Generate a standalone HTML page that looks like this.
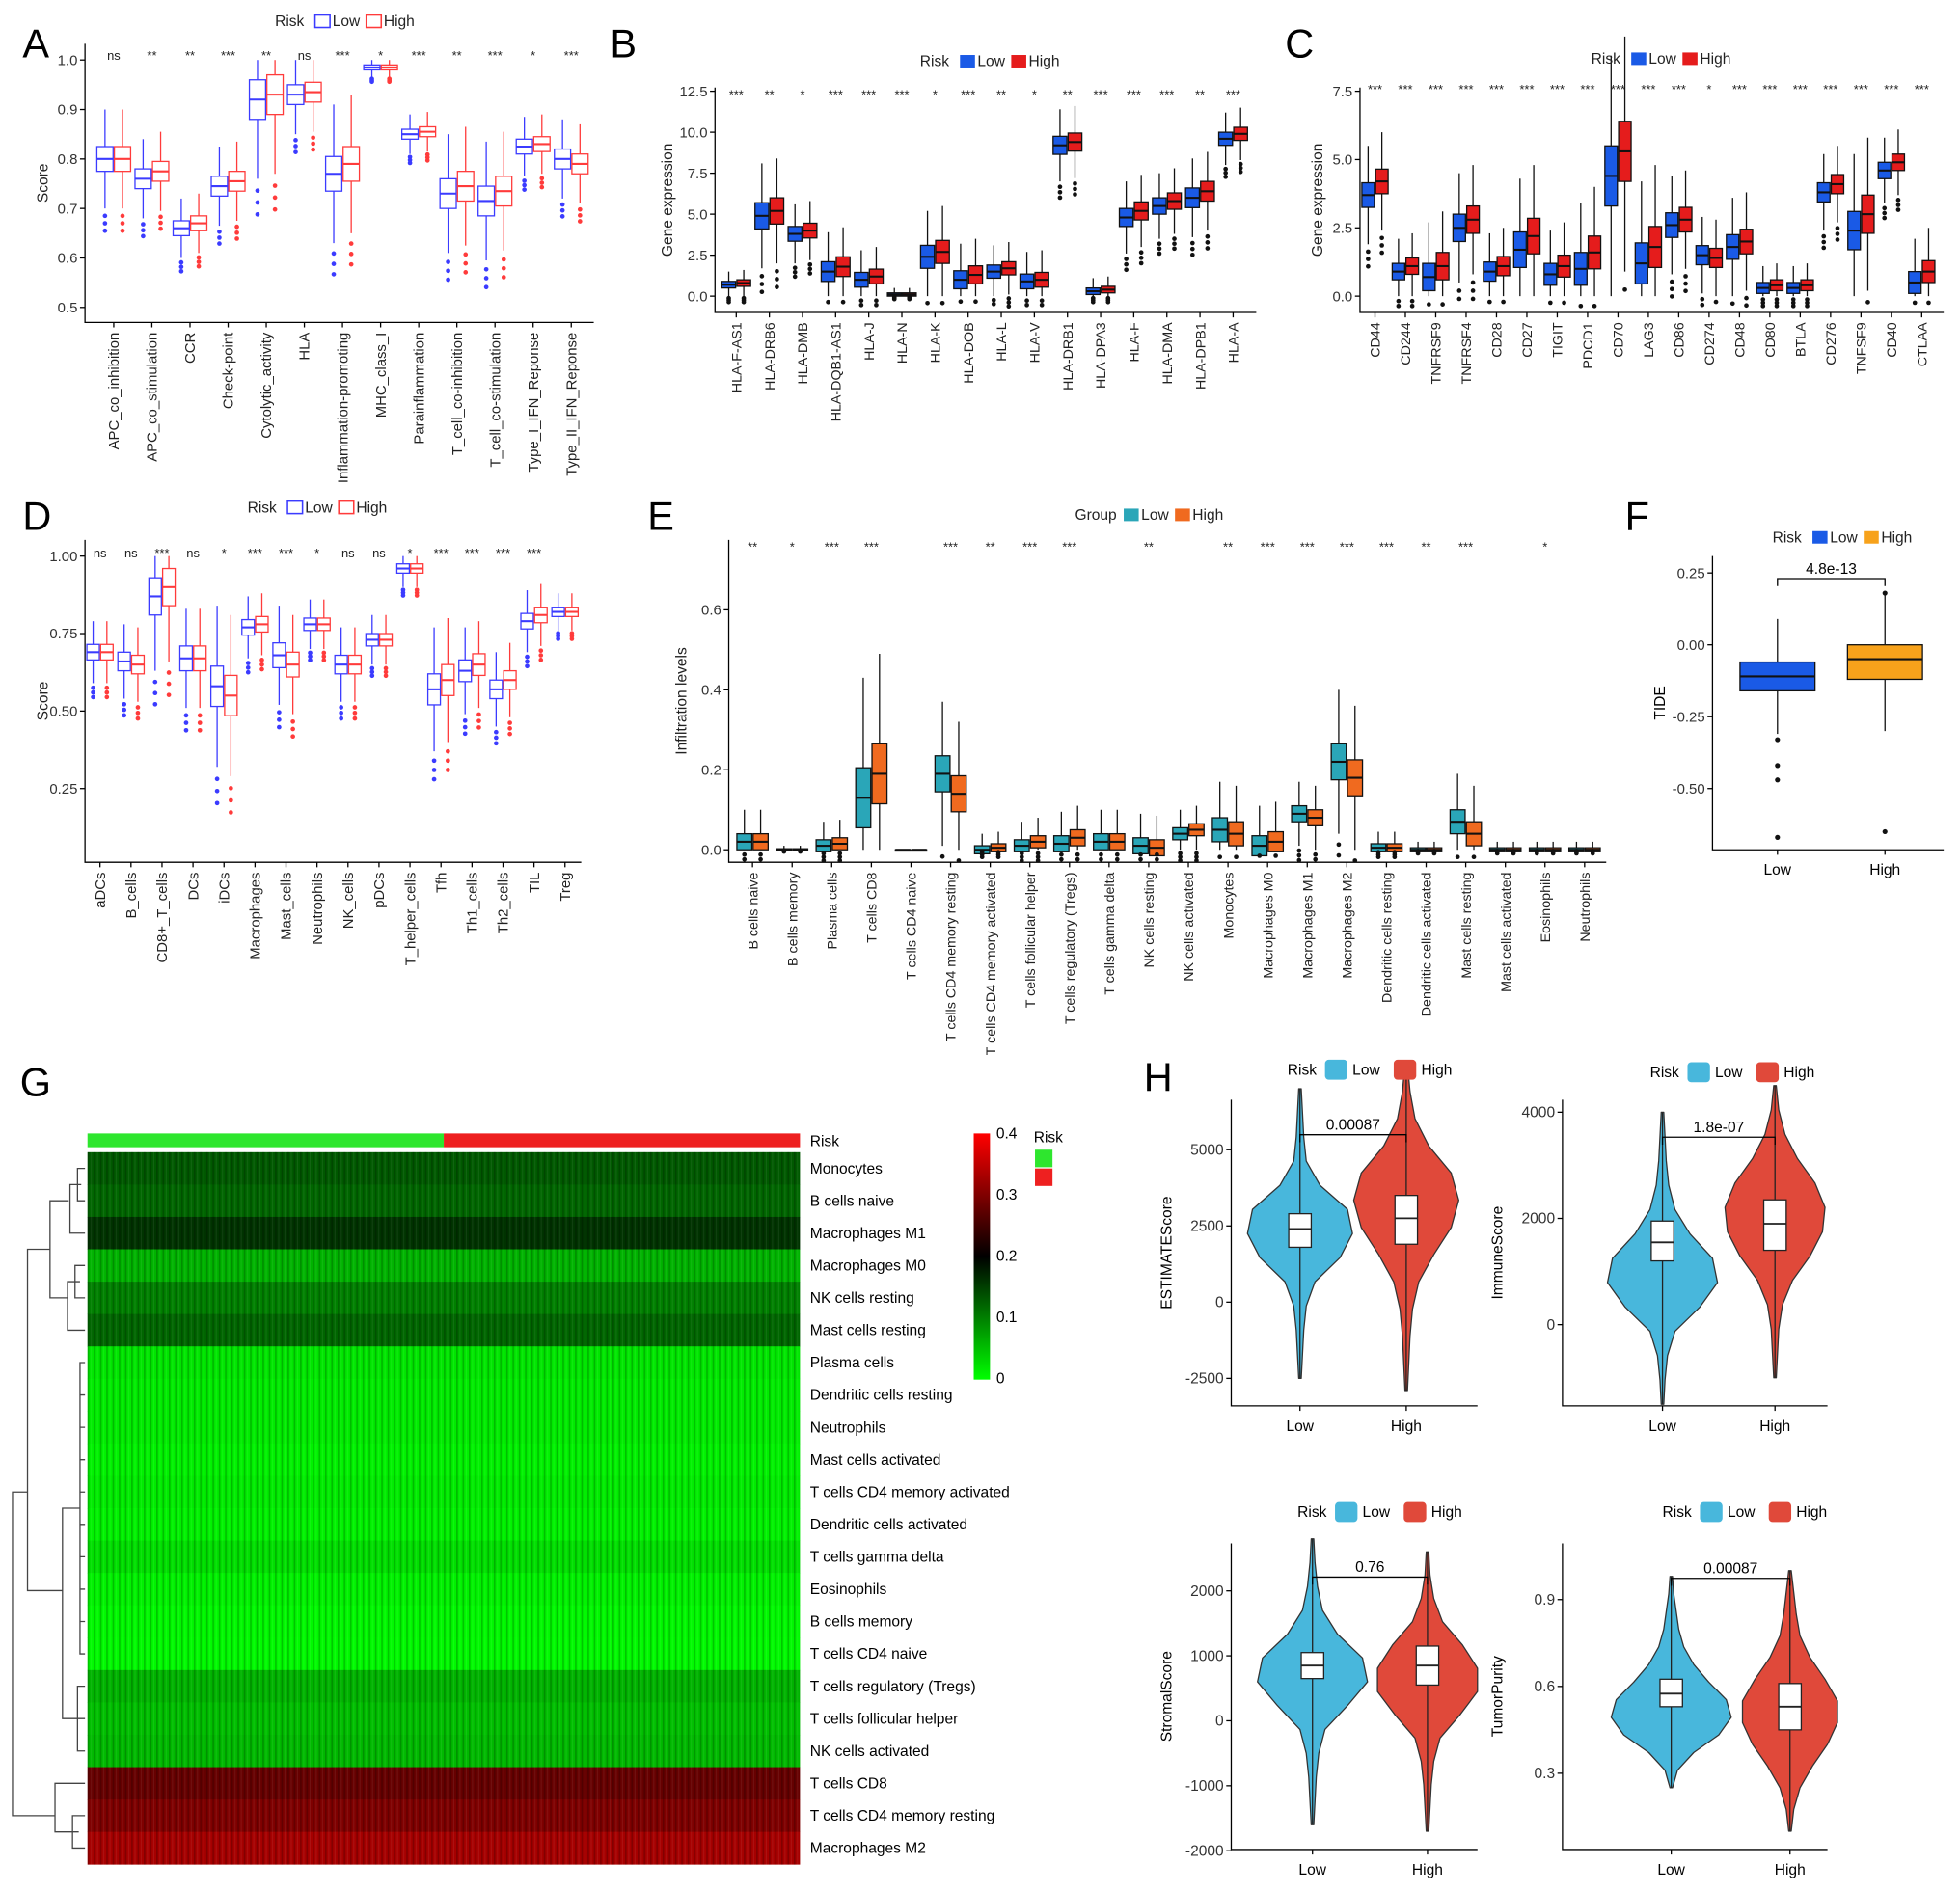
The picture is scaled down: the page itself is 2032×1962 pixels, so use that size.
<!DOCTYPE html>
<html><head><meta charset="utf-8"><style>
html,body{margin:0;padding:0;background:#fff;}
svg{display:block;font-family:"Liberation Sans",sans-serif;}
</style></head><body>
<svg id="fig" xmlns="http://www.w3.org/2000/svg" width="2032" height="1962" viewBox="0 0 1568 1514">
<defs>
<pattern id="stripes" width="5" height="10" patternUnits="userSpaceOnUse">
<rect x="0" y="0" width="1.3" height="10" fill="#000" opacity="0.35"/>
<rect x="2.6" y="0" width="0.8" height="10" fill="#fff" opacity="0.12"/>
</pattern>
<linearGradient id="cbar" x1="0" y1="1" x2="0" y2="0">
<stop offset="0" stop-color="#00ff00"/><stop offset="0.5" stop-color="#000"/><stop offset="1" stop-color="#ff0000"/>
</linearGradient>
</defs>
</svg>
<script>
// ---------- DATA ----------
const catsA=["APC_co_inhibition","APC_co_stimulation","CCR","Check-point","Cytolytic_activity","HLA","Inflammation-promoting","MHC_class_I","Parainflammation","T_cell_co-inhibition","T_cell_co-stimulation","Type_I_IFN_Reponse","Type_II_IFN_Reponse"];
const lowA=[0.80,0.76,0.66,0.745,0.92,0.93,0.77,0.985,0.85,0.73,0.715,0.825,0.80];
const highA=[0.80,0.775,0.67,0.755,0.93,0.935,0.79,0.985,0.855,0.745,0.735,0.83,0.79];
const iqrA=[0.05,0.04,0.03,0.04,0.08,0.04,0.07,0.01,0.02,0.06,0.06,0.03,0.04];
const sigA=["ns","**","**","***","**","ns","***","*","***","**","***","*","***"];
const ticksA=[0.5,0.6,0.7,0.8,0.9,1.0];

const catsB=["HLA-F-AS1","HLA-DRB6","HLA-DMB","HLA-DQB1-AS1","HLA-J","HLA-N","HLA-K","HLA-DOB","HLA-L","HLA-V","HLA-DRB1","HLA-DPA3","HLA-F","HLA-DMA","HLA-DPB1","HLA-A"];
const lowB=[0.7,4.9,3.8,1.5,1.0,0.1,2.4,1.0,1.5,0.9,9.2,0.3,4.8,5.5,6.0,9.6];
const highB=[0.8,5.2,4.0,1.8,1.2,0.1,2.7,1.3,1.7,1.0,9.4,0.4,5.2,5.8,6.4,9.9];
const iqrB=[0.4,1.6,0.9,1.2,0.9,0.2,1.4,1.1,0.8,0.9,1.1,0.4,1.1,1.0,1.2,0.8];
const sigB=["***","**","*","***","***","***","*","***","**","*","**","***","***","***","**","***"];
const ticksB=[0,2.5,5,7.5,10,12.5];
const tickLabB=["0.0","2.5","5.0","7.5","10.0","12.5"];

const catsC=["CD44","CD244","TNFRSF9","TNFRSF4","CD28","CD27","TIGIT","PDCD1","CD70","LAG3","CD86","CD274","CD48","CD80","BTLA","CD276","TNFSF9","CD40","CTLAA"];
const lowC=[3.7,0.9,0.7,2.5,0.9,1.7,0.8,1.0,4.4,1.2,2.6,1.5,1.8,0.3,0.3,3.8,2.4,4.6,0.5];
const highC=[4.2,1.1,1.1,2.8,1.1,2.2,1.1,1.6,5.3,1.8,2.8,1.4,2.0,0.4,0.4,4.1,3.0,4.9,0.9];
const iqrC=[0.9,0.6,1.0,1.0,0.7,1.3,0.8,1.2,2.2,1.5,0.9,0.7,0.9,0.4,0.4,0.7,1.4,0.6,0.8];
const sigC=["***","***","***","***","***","***","***","***","***","***","***","*","***","***","***","***","***","***","***"];
const ticksC=[0,2.5,5,7.5];
const tickLabC=["0.0","2.5","5.0","7.5"];

const catsD=["aDCs","B_cells","CD8+_T_cells","DCs","iDCs","Macrophages","Mast_cells","Neutrophils","NK_cells","pDCs","T_helper_cells","Tfh","Th1_cells","Th2_cells","TIL","Treg"];
const lowD=[0.69,0.66,0.87,0.67,0.58,0.77,0.68,0.78,0.65,0.73,0.96,0.57,0.63,0.57,0.79,0.82];
const highD=[0.69,0.65,0.90,0.67,0.55,0.78,0.65,0.78,0.65,0.73,0.96,0.60,0.65,0.60,0.81,0.82];
const iqrD=[0.05,0.06,0.12,0.08,0.13,0.05,0.08,0.04,0.06,0.04,0.03,0.10,0.07,0.06,0.05,0.03];
const sigD=["ns","ns","***","ns","*","***","***","*","ns","ns","*","***","***","***","***",""];
const ticksD=[0.25,0.5,0.75,1.0];
const tickLabD=["0.25","0.50","0.75","1.00"];

const catsE=["B cells naive","B cells memory","Plasma cells","T cells CD8","T cells CD4 naive","T cells CD4 memory resting","T cells CD4 memory activated","T cells follicular helper","T cells regulatory (Tregs)","T cells gamma delta","NK cells resting","NK cells activated","Monocytes","Macrophages M0","Macrophages M1","Macrophages M2","Dendritic cells resting","Dendritic cells activated","Mast cells resting","Mast cells activated","Eosinophils","Neutrophils"];
const lowE=[0.02,0,0.01,0.13,0,0.19,0,0.01,0.015,0.02,0.01,0.04,0.05,0.01,0.09,0.22,0.005,0,0.07,0,0,0];
const highE=[0.02,0,0.015,0.19,0,0.14,0.005,0.02,0.03,0.02,0.005,0.05,0.04,0.02,0.08,0.18,0.005,0,0.04,0,0,0];
const iqrE=[0.04,0.005,0.03,0.15,0,0.09,0.02,0.03,0.04,0.04,0.04,0.03,0.06,0.05,0.04,0.09,0.02,0.01,0.06,0.01,0.01,0.01];
const sigE=["**","*","***","***","","***","**","***","***","","**","","**","***","***","***","***","**","***","","*",""];
const ticksE=[0,0.2,0.4,0.6];
const tickLabE=["0.0","0.2","0.4","0.6"];

const catsF=["Low","High"];
const medF=[-0.11,-0.05];
const q1F=[-0.16,-0.12];
const q3F=[-0.06,0.0];
const ticksF=[0.25,0,-0.25,-0.5];
const tickLabF=["0.25","0.00","-0.25","-0.50"];

const rowsG=["Monocytes","B cells naive","Macrophages M1","Macrophages M0","NK cells resting","Mast cells resting","Plasma cells","Dendritic cells resting","Neutrophils","Mast cells activated","T cells CD4 memory activated","Dendritic cells activated","T cells gamma delta","Eosinophils","B cells memory","T cells CD4 naive","T cells regulatory (Tregs)","T cells follicular helper","NK cells activated","T cells CD8","T cells CD4 memory resting","Macrophages M2"];
const valsG=[0.13,0.12,0.16,0.06,0.1,0.12,0.02,0.015,0.015,0.01,0.015,0.01,0.025,0.01,0.005,0.004,0.06,0.05,0.055,0.28,0.3,0.33];
const riskLowFrac=0.5;

const violins=[
 {name:"ESTIMATEScore",p:"0.00087",ticks:[-2500,0,2500,5000],
  low:{min:-2500,max:7000,med:2400,q1:1800,q3:2900,w:[1,2,3,5,12,32,42,38,16,5,3,2,1]},
  high:{min:-2900,max:7800,med:2750,q1:1900,q3:3500,w:[1,2,3,5,10,22,36,42,36,18,7,3,1]}},
 {name:"ImmuneScore",p:"1.8e-07",ticks:[0,2000,4000],
  low:{min:-1500,max:4000,med:1550,q1:1200,q3:1950,w:[1,2,4,10,30,44,40,22,10,5,3,2,1]},
  high:{min:-1000,max:4500,med:1900,q1:1400,q3:2350,w:[1,2,3,6,14,28,38,40,32,18,8,3,1]}},
 {name:"StromalScore",p:"0.76",ticks:[-2000,-1000,0,1000,2000],
  low:{min:-1600,max:2800,med:850,q1:650,q3:1050,w:[1,2,3,5,10,28,44,40,20,8,4,2,1]},
  high:{min:-1700,max:2600,med:850,q1:550,q3:1150,w:[1,2,3,5,10,26,40,40,28,12,5,2,1]}},
 {name:"TumorPurity",p:"0.00087",ticks:[0.3,0.6,0.9],
  low:{min:0.25,max:0.98,med:0.575,q1:0.53,q3:0.625,w:[1,5,18,38,48,44,30,18,10,6,4,2,1]},
  high:{min:0.1,max:1.0,med:0.53,q1:0.45,q3:0.61,w:[1,3,8,18,30,38,38,28,16,8,5,3,1]}}
];

// ---------- HELPERS ----------
const NS='http://www.w3.org/2000/svg';
const svg=document.getElementById('fig');
function mk(tag,attrs,parent,text){const e=document.createElementNS(NS,tag);for(const k in attrs)e.setAttribute(k,attrs[k]);if(text!==undefined)e.textContent=text;(parent||svg).appendChild(e);return e;}
function nm(e,n){
 
 
 return e;}
function lin(va,ya,vb,yb){return v=>ya+(v-va)*(yb-ya)/(vb-va);}

function legend(g,x,y,title,labels,cols,filled,outline){
 const t=mk('text',{x:x,y:y+4,'font-size':12,fill:'#222'},g,title);
 nm(t,'legend-title');
 let cx=x+title.length*7+4;
 labels.forEach((l,i)=>{
  const r=mk('rect',{x:cx,y:y-5,width:12,height:10,fill:filled?cols[i]:'#fff',stroke:outline?cols[i]:'none','stroke-width':1.2},g);
  nm(r,'legend-key-'+l.toLowerCase());
  const tt=mk('text',{x:cx+14,y:y+4,'font-size':12,fill:'#222'},g,l);
  nm(tt,'legend-entry-'+l.toLowerCase());
  cx+=14+l.length*7+6;
 });
}

function boxPanel(c){
 const g=mk('g',{},svg);nm(g,c.id+'-panel');
 const Y=lin(c.va,c.ya,c.vb,c.yb);
 const ax=mk('path',{d:`M${c.x0},${c.y0}V${c.y1}H${c.x1}`,stroke:'#000','stroke-width':1,fill:'none'},g);nm(ax,c.id+'-axes');
 c.ticks.forEach((t,i)=>{
  const y=Y(t);
  mk('line',{x1:c.x0-4,x2:c.x0,y1:y,y2:y,stroke:'#000'},g);
  const tl=mk('text',{x:c.x0-6,y:y+4,'font-size':11.5,'text-anchor':'end',fill:'#333'},g,c.tickLab?c.tickLab[i]:String(t));
  nm(tl,c.id+'-y-tick');
 });
 const yl=mk('text',{transform:`translate(${c.x0-(c.ylOff||30)},${(c.y0+c.y1)/2}) rotate(-90)`,'font-size':12,'text-anchor':'middle',fill:'#222'},g,c.ylabel);
 nm(yl,c.id+'-y-axis-title');
 const bw=c.bw;
 c.cats.forEach((cat,i)=>{
  const xc=c.xs+i*c.step;
  mk('line',{x1:xc,x2:xc,y1:c.y1,y2:c.y1+4,stroke:'#000'},g);
  const lab=mk('text',{transform:`translate(${xc+4},${c.y1+8}) rotate(-90)`,'font-size':c.fs||11.5,'text-anchor':'end',fill:'#222'},g,cat);
  nm(lab,c.id+'-x-label');
  [[c.lo,-1,c.colL],[c.hi,1,c.colH]].forEach(([arr,s,col])=>{
   if(!arr.length)return;
   const m=arr[i],h=c.iqr[i]/2;
   const q1=m-h,q3=m+h;
   const wl=Math.max(c.vmin,q1-3*h),wh=Math.min(c.vmax,q3+3*h);
   const bx=xc+(s<0?-bw-0.5:0.5);
   const wx=bx+bw/2;
   const stroke=c.filled?'#111':col;
   const wl1=mk('line',{x1:wx,x2:wx,y1:Y(wh),y2:Y(wl),stroke:stroke,'stroke-width':1},g);nm(wl1,'whisker');
   const r=mk('rect',{x:bx,y:Y(q3),width:bw,height:Math.max(1,Y(q1)-Y(q3)),fill:c.filled?col:'#fff',stroke:stroke,'stroke-width':1},g);
   nm(r,c.id+'-box-'+(s<0?'low':'high'));
   mk('line',{x1:bx,x2:bx+bw,y1:Y(m),y2:Y(m),stroke:stroke,'stroke-width':1.6},g);
   for(let k=1;k<=3;k++){const ov=wl-k*h*0.6;if(ov>c.vmin-(c.vb-c.va)*0.05&&h>0.0001){const d=mk('circle',{cx:wx,cy:Y(ov),r:1.8,fill:c.filled?'#111':col},g);nm(d,'outlier');}}
  });
  if(c.sig&&c.sig[i]){const st=mk('text',{x:xc,y:c.sigY,'font-size':10,'text-anchor':'middle',fill:'#222'},g,c.sig[i]);nm(st,c.id+'-significance');}
 });
 legend(g,c.legX,c.legY,c.legT,["Low","High"],[c.colL,c.colH],c.filled,!c.filled);
 const L=mk('text',{x:c.Lx,y:c.Ly,'font-size':32,fill:'#000'},g,c.id.toUpperCase());nm(L,'panel-label-'+c.id);
}

// ---------- PANELS A-E ----------
boxPanel({id:'a',x0:68,x1:475,y0:35,y1:258,va:0.5,ya:246,vb:1.0,yb:48,vmin:0.49,vmax:1.0,ticks:ticksA,tickLab:["0.5","0.6","0.7","0.8","0.9","1.0"],ylabel:'Score',
 cats:catsA,lo:lowA,hi:highA,iqr:iqrA,sig:sigA,xs:91,step:30.5,bw:13,colL:'#3b3bff',colH:'#ff3b3b',filled:false,sigY:48,legX:220,legY:17,legT:'Risk',Lx:18,Ly:46});
boxPanel({id:'b',x0:572,x1:1005,y0:70,y1:250,va:0,ya:237,vb:12.5,yb:73,vmin:0,vmax:12.5,ticks:ticksB,tickLab:tickLabB,ylabel:'Gene expression',ylOff:34,
 cats:catsB,lo:lowB,hi:highB,iqr:iqrB,sig:sigB,xs:589,step:26.5,bw:11,colL:'#1a5ae6',colH:'#e51c1c',filled:true,sigY:79,legX:736,legY:49,legT:'Risk',Lx:488,Ly:46,fs:11});
boxPanel({id:'c',x0:1088,x1:1555,y0:70,y1:250,va:0,ya:237,vb:7.5,yb:73,vmin:0,vmax:9.5,ticks:ticksC,tickLab:tickLabC,ylabel:'Gene expression',ylOff:30,
 cats:catsC,lo:lowC,hi:highC,iqr:iqrC,sig:sigC,xs:1100,step:24.3,bw:10,colL:'#1a5ae6',colH:'#e51c1c',filled:true,sigY:75,legX:1273,legY:47,legT:'Risk',Lx:1028,Ly:46,fs:11});
boxPanel({id:'d',x0:68,x1:465,y0:432,y1:690,va:0.25,ya:631,vb:1.0,yb:445,vmin:0.1,vmax:1.0,ticks:ticksD,tickLab:tickLabD,ylabel:'Score',
 cats:catsD,lo:lowD,hi:highD,iqr:iqrD,sig:sigD,xs:80,step:24.8,bw:10,colL:'#3b3bff',colH:'#ff3b3b',filled:false,sigY:446,legX:198,legY:406,legT:'Risk',Lx:18,Ly:424});
boxPanel({id:'e',x0:583,x1:1285,y0:432,y1:690,va:0,ya:680,vb:0.6,yb:488,vmin:0,vmax:0.6,ticks:ticksE,tickLab:tickLabE,ylabel:'Infiltration levels',ylOff:34,
 cats:catsE,lo:lowE,hi:highE,iqr:iqrE,sig:sigE,xs:602,step:31.7,bw:12,colL:'#2aa6b8',colH:'#f06a1f',filled:true,sigY:441,legX:860,legY:412,legT:'Group',Lx:518,Ly:424,fs:11});

// ---------- PANEL F ----------
(function(){
 const g=mk('g',{},svg);nm(g,'f-panel');
 const x0=1370,x1=1555,y0=445,y1=680;
 const Y=lin(0,516,-0.5,631);
 const ax=mk('path',{d:`M${x0},${y0}V${y1}H${x1}`,stroke:'#000',fill:'none'},g);nm(ax,'f-axes');
 ticksF.forEach((t,i)=>{const y=Y(t);mk('line',{x1:x0-4,x2:x0,y1:y,y2:y,stroke:'#000'},g);const tl=mk('text',{x:x0-6,y:y+4,'font-size':11.5,'text-anchor':'end',fill:'#333'},g,tickLabF[i]);nm(tl,'f-y-tick');});
 const yl=mk('text',{transform:`translate(${x0-38},${(y0+y1)/2}) rotate(-90)`,'font-size':12,'text-anchor':'middle'},g,'TIDE');nm(yl,'f-y-axis-title');
 const xs=[1422,1508],cols=['#1a5ae6','#f7a21b'];
 catsF.forEach((c,i)=>{
  const xc=xs[i];
  mk('line',{x1:xc,x2:xc,y1:y1,y2:y1+4,stroke:'#000'},g);
  const xl=mk('text',{x:xc,y:y1+20,'font-size':12,'text-anchor':'middle'},g,c);nm(xl,'f-x-label');
  const h=q3F[i]-q1F[i];
  const w1=mk('line',{x1:xc,x2:xc,y1:Y(q3F[i]+1.5*h),y2:Y(q1F[i]-1.5*h),stroke:'#111'},g);nm(w1,'whisker');
  const r=mk('rect',{x:xc-30,y:Y(q3F[i]),width:60,height:Y(q1F[i])-Y(q3F[i]),fill:cols[i],stroke:'#111'},g);nm(r,'f-box-'+c.toLowerCase());
  mk('line',{x1:xc-30,x2:xc+30,y1:Y(medF[i]),y2:Y(medF[i]),stroke:'#111','stroke-width':1.6},g);
 });
 [[1422,-0.33],[1422,-0.42],[1422,-0.47],[1422,-0.67],[1508,0.18],[1508,-0.65]].forEach(p=>{const d=mk('circle',{cx:p[0],cy:Y(p[1]),r:2,fill:'#111'},g);nm(d,'outlier');});
 mk('path',{d:'M1422,469V463H1508V469',stroke:'#000',fill:'none'},g);
 const pv=mk('text',{x:1465,y:459,'font-size':12,'text-anchor':'middle'},g,'4.8e-13');nm(pv,'f-p-value');
 legend(g,1418,430,'Risk',["Low","High"],cols,true,false);
 const L=mk('text',{x:1300,y:424,'font-size':32},g,'F');nm(L,'panel-label-f');
})();

// ---------- PANEL G ----------
(function(){
 const g=mk('g',{},svg);nm(g,'g-panel');
 const x0=70,x1=640,top=922,rh=25.9;
 const col=v=>{const t=Math.min(1,Math.max(0,v/0.4));let r,gg;if(t<0.5){r=0;gg=Math.round(255*(1-t*2));}else{r=Math.round(255*(t-0.5)*2);gg=0;}return `rgb(${r},${gg},0)`;};
 const rl=mk('rect',{x:x0,y:907,width:(x1-x0)*riskLowFrac,height:11,fill:'#2ee62e'},g);nm(rl,'risk-bar-low');
 const rhh=mk('rect',{x:x0+(x1-x0)*riskLowFrac,y:907,width:(x1-x0)*(1-riskLowFrac),height:11,fill:'#ee2020'},g);nm(rhh,'risk-bar-high');
 const rlab=mk('text',{x:648,y:917,'font-size':12},g,'Risk');nm(rlab,'risk-row-label');
 rowsG.forEach((r,i)=>{
  const y=top+i*rh;
  const c=mk('rect',{x:x0,y:y,width:x1-x0,height:rh+0.3,fill:col(valsG[i])},g);nm(c,'heatmap-row');
  const s=mk('rect',{x:x0,y:y,width:x1-x0,height:rh+0.3,fill:'url(#stripes)',opacity:0.6},g);nm(s,'heatmap-texture');
  const t=mk('text',{x:648,y:y+rh/2+4,'font-size':12},g,r);nm(t,'heatmap-row-label');
 });
 const cy=i=>top+i*rh+rh/2;
 const dg=mk('path',{d:
 `M68,${cy(0)}H62V${cy(1)}H68 M65,${(cy(0)+cy(1))/2}H56V${cy(2)}H68`+
 ` M68,${cy(3)}H60V${cy(4)}H68 M64,${(cy(3)+cy(4))/2}H54V${cy(5)}H68`+
 ` M55,${(cy(0)+cy(2))/2}H40V${(cy(3)+cy(5))/2}H54`+
 ` M68,${cy(6)}H64V${cy(15)}H68`+[7,8,9,10,11,12,13,14].map(k=>` M68,${cy(k)}H64`).join('')+
 ` M68,${cy(16)}H62V${cy(18)}H68 M68,${cy(17)}H62`+
 ` M64,${(cy(6)+cy(15))/2}H50V${cy(17)}H62`+
 ` M50,${(cy((6))+cy(17))/2+40}H22V${(cy(0)+cy(5))/2}H40`+
 ` M68,${cy(20)}H58V${cy(21)}H68 M63,${(cy(20)+cy(21))/2}H44V${cy(19)}H68`+
 ` M44,${(cy(19)+cy(21))/2}H10V${cy(10)}H22`,stroke:'#444',fill:'none','stroke-width':1},g);
 nm(dg,'dendrogram');
 const cb=mk('rect',{x:779,y:907,width:13,height:197,fill:'url(#cbar)'},g);nm(cb,'colorbar');
 ["0.4","0.3","0.2","0.1","0"].forEach((l,i)=>{const t=mk('text',{x:797,y:911+i*49,'font-size':12},g,l);nm(t,'colorbar-tick');});
 const lt=mk('text',{x:827,y:914,'font-size':12},g,'Risk');nm(lt,'risk-legend-title');
 const k1=mk('rect',{x:828,y:920,width:14,height:14,fill:'#2ee62e'},g);nm(k1,'risk-legend-low');
 const k2=mk('rect',{x:828,y:935,width:14,height:14,fill:'#ee2020'},g);nm(k2,'risk-legend-high');
 const L=mk('text',{x:16,y:877,'font-size':32},g,'G');nm(L,'panel-label-g');
})();

// ---------- PANEL H ----------
const vLayout=[
 {x0:985,x1:1182,y0:880,y1:1125,xs:[1040,1125],va:0,ya:1042,vb:5000,yb:920,br:908,legX:1030,legY:856},
 {x0:1250,x1:1462,y0:880,y1:1125,xs:[1330,1420],va:0,ya:1060,vb:4000,yb:890,br:910,legX:1320,legY:858},
 {x0:985,x1:1182,y0:1235,y1:1480,xs:[1050,1142],va:0,ya:1377,vb:2000,yb:1273,br:1262,legX:1038,legY:1210},
 {x0:1250,x1:1462,y0:1235,y1:1480,xs:[1337,1432],va:0.3,ya:1419,vb:0.9,yb:1280,br:1263,legX:1330,legY:1210}
];
violins.forEach((v,vi)=>{
 const L=vLayout[vi];
 const g=mk('g',{},svg);nm(g,'h-panel-'+v.name.toLowerCase());
 const Y=lin(L.va,L.ya,L.vb,L.yb);
 const ax=mk('path',{d:`M${L.x0},${L.y0}V${L.y1}H${L.x1}`,stroke:'#000',fill:'none'},g);nm(ax,'h-axes');
 v.ticks.forEach(t=>{const y=Y(t);mk('line',{x1:L.x0-4,x2:L.x0,y1:y,y2:y,stroke:'#000'},g);const tl=mk('text',{x:L.x0-6,y:y+4,'font-size':12,'text-anchor':'end',fill:'#333'},g,String(t));nm(tl,'h-y-tick');});
 const yl=mk('text',{transform:`translate(${L.x0-48},${(L.y0+L.y1)/2}) rotate(-90)`,'font-size':12,'text-anchor':'middle'},g,v.name);nm(yl,'h-y-axis-title');
 [['Low',v.low,'#48b7dc'],['High',v.high,'#e0493a']].forEach(([lab,d,c],i)=>{
  const xc=L.xs[i];
  mk('line',{x1:xc,x2:xc,y1:L.y1,y2:L.y1+4,stroke:'#000'},g);
  const xl=mk('text',{x:xc,y:L.y1+20,'font-size':12,'text-anchor':'middle'},g,lab);nm(xl,'h-x-label');
  const n=d.w.length;const pts=[];
  for(let k=0;k<n;k++){pts.push([d.w[k],Y(d.min+(d.max-d.min)*k/(n-1))]);}
  let p=`M${xc},${Y(d.min)}`;
  pts.forEach(q=>p+=`L${xc+q[0]},${q[1]}`);
  p+=`L${xc},${Y(d.max)}`;
  pts.slice().reverse().forEach(q=>p+=`L${xc-q[0]},${q[1]}`);
  p+='Z';
  const vp=mk('path',{d:p,fill:c,stroke:'#333','stroke-width':1,'stroke-linejoin':'round'},g);nm(vp,'violin-'+lab.toLowerCase());
  const wl=mk('line',{x1:xc,x2:xc,y1:Y(d.max),y2:Y(d.min),stroke:'#222'},g);nm(wl,'whisker');
  const b=mk('rect',{x:xc-9,y:Y(d.q3),width:18,height:Y(d.q1)-Y(d.q3),fill:'#fff',stroke:'#222'},g);nm(b,'box-'+lab.toLowerCase());
  mk('line',{x1:xc-9,x2:xc+9,y1:Y(d.med),y2:Y(d.med),stroke:'#222','stroke-width':1.4},g);
 });
 mk('path',{d:`M${L.xs[0]},${L.br+6}V${L.br}H${L.xs[1]}V${L.br+6}`,stroke:'#000',fill:'none'},g);
 const pv=mk('text',{x:(L.xs[0]+L.xs[1])/2,y:L.br-4,'font-size':12,'text-anchor':'middle'},g,v.p);nm(pv,'h-p-value');
 const lg=mk('g',{},g);nm(lg,'h-legend');
 const t=mk('text',{x:L.legX,y:L.legY+4,'font-size':12},lg,'Risk');nm(t,'legend-title');
 const k1=mk('rect',{x:L.legX+30,y:L.legY-8,width:18,height:16,rx:3,fill:'#48b7dc'},lg);nm(k1,'legend-key-low');
 const t1=mk('text',{x:L.legX+52,y:L.legY+4,'font-size':12},lg,'Low');nm(t1,'legend-entry-low');
 const k2=mk('rect',{x:L.legX+85,y:L.legY-8,width:18,height:16,rx:3,fill:'#e0493a'},lg);nm(k2,'legend-key-high');
 const t2=mk('text',{x:L.legX+107,y:L.legY+4,'font-size':12},lg,'High');nm(t2,'legend-entry-high');
});
const HL=mk('text',{x:915,y:873,'font-size':32},svg,'H');
nm(HL,'panel-label-h');
</script>
</body></html>
